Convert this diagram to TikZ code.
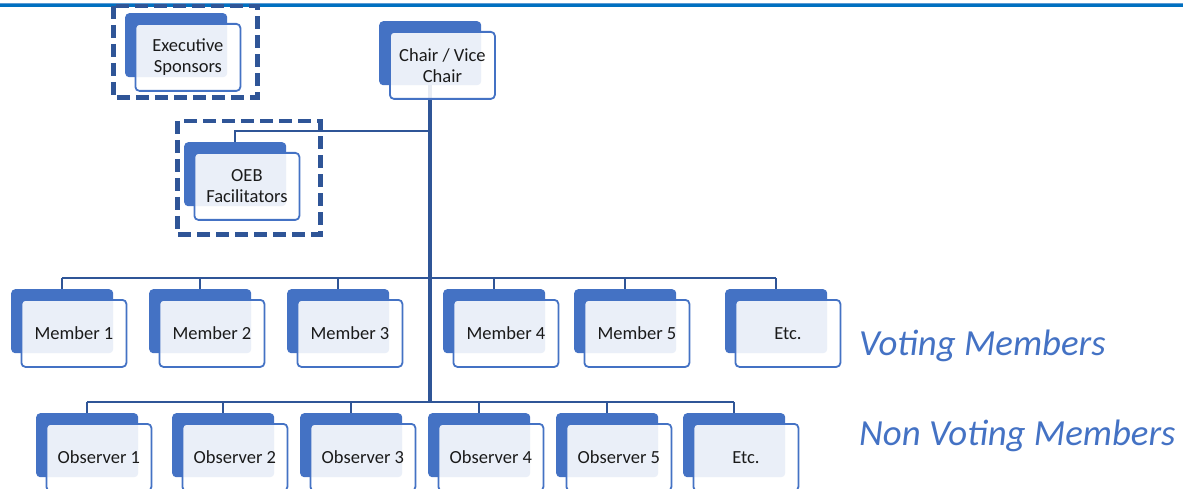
\documentclass[tikz,border=0pt]{standalone}
\usepackage{fontspec}
\setmainfont{Carlito}
\definecolor{accent}{HTML}{4472C4}
\definecolor{darkline}{HTML}{2F5597}
\definecolor{topblue}{HTML}{0070C0}
\definecolor{toplight}{HTML}{5B9BD5}
\definecolor{txt}{HTML}{1A1A1A}
\tikzset{
  backbox/.style={anchor=north west, fill=accent, draw=none, rounded corners=4pt,
    minimum width=102pt, minimum height=64pt, inner sep=0pt},
  frontbox/.style={anchor=north west, fill=white, fill opacity=0.89, text opacity=1,
    draw=accent, line width=1.8pt, rounded corners=4pt,
    minimum width=105pt, minimum height=67pt, inner sep=0pt, align=center,
    text=txt, font=\fontsize{18.5}{21}\selectfont},
  conn/.style={draw=darkline, line width=2.2pt},
  trunk/.style={draw=darkline, line width=3.2pt},
  dashbox/.style={draw=darkline, line width=4.2pt, dash pattern=on 13pt off 6pt},
  legend/.style={anchor=base west, text=accent, font=\fontsize{36.8}{40}\selectfont\itshape, inner sep=0pt},
}
\newcommand{\orgbox}[4]{%
  \node[backbox] (#1b) at (#2,#3) {};
  \node[frontbox] (#1) at ({#2+9.5},{#3+10}) {#4};
}
\begin{document}
\begin{tikzpicture}[x=1pt,y=-1pt]
\useasboundingbox (0,0) rectangle (1183,489);
% top rule
\draw[toplight, line width=1pt] (0,3.8) -- (1183,3.8);
\draw[topblue, line width=2.6pt] (0,5.8) -- (1183,5.8);

% trunk (under chair front box)
\node[backbox] (chairb) at (379,21) {};
\coordinate (trunkbot) at (430,402);
\draw[trunk] (chairb.south -| trunkbot) -- (trunkbot);
\node[frontbox] (chair) at (389,31) {Chair / Vice\\Chair};

% executive sponsors
\orgbox{exec}{125}{13}{Executive\\Sponsors}
\draw[dashbox] (113.5,6) rectangle (257.5,97.5);

% OEB facilitators
\coordinate (oebj) at (430,131);
\orgbox{oeb}{184}{142}{OEB\\Facilitators}
\draw[conn] (oebj) -| (oebb.north);
\draw[dashbox] (177.5,121) rectangle (320.5,234.5);

% members
\orgbox{m1}{11}{289}{Member 1}
\orgbox{m2}{149}{289}{Member 2}
\orgbox{m3}{287}{289}{Member 3}
\orgbox{m4}{443}{289}{Member 4}
\orgbox{m5}{574}{289}{Member 5}
\orgbox{m6}{725}{289}{Etc.}
\coordinate (mbus) at (430,278);
\draw[conn] (m1b.north |- mbus) -- (m6b.north |- mbus);
\foreach \n in {m1b,m2b,m3b,m4b,m5b,m6b}{
  \draw[conn] (\n.north |- mbus) -- (\n.north);
}

% observers
\orgbox{o1}{36}{413}{Observer 1}
\orgbox{o2}{172}{413}{Observer 2}
\orgbox{o3}{300}{413}{Observer 3}
\orgbox{o4}{428}{413}{Observer 4}
\orgbox{o5}{556}{413}{Observer 5}
\orgbox{o6}{683}{413}{Etc.}
\draw[conn] (o1b.north |- trunkbot) -- (o6b.north |- trunkbot);
\foreach \n in {o1b,o2b,o3b,o4b,o5b,o6b}{
  \draw[conn] (\n.north |- trunkbot) -- (\n.north);
}

% legends
\node[legend] (vot) at (859,355) {Voting Members};
\node[legend] (nonvot) at (859,445) {Non Voting Members};
\end{tikzpicture}
\end{document}
